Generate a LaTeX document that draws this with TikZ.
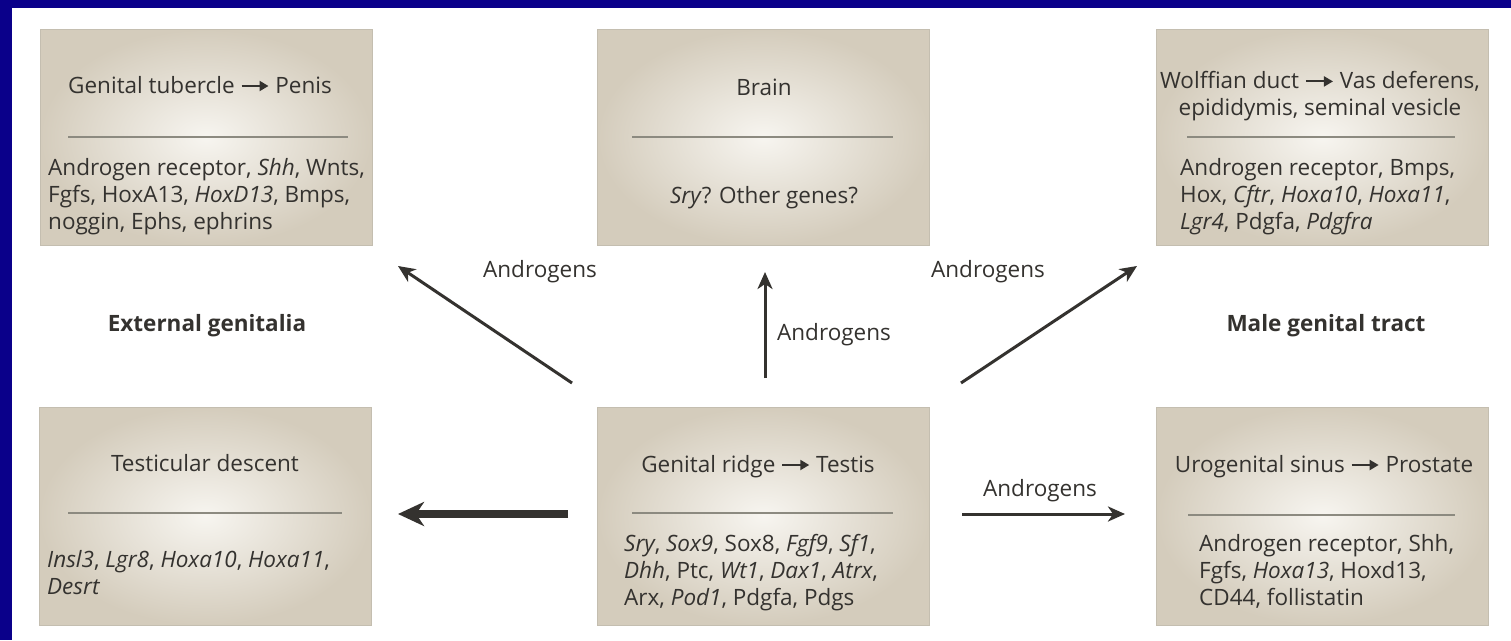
\documentclass[tikz,border=0pt]{standalone}
\usepackage{fontspec}
\setmainfont{Open Sans}
\usetikzlibrary{arrows.meta}
\definecolor{frameblue}{RGB}{10,0,138}
\definecolor{boxedge}{RGB}{212,204,188}
\definecolor{boxcore}{RGB}{247,245,240}
\definecolor{boxline}{RGB}{196,190,176}
\definecolor{ink}{RGB}{52,50,47}
\definecolor{rulegray}{RGB}{140,138,128}
% short arrow used inside the panel headings
\newcommand\devarrow{\tikz[baseline={(0pt,-7pt)}]\draw[ink,line width=2pt,-{Triangle[length=9pt,width=10pt]}] (0pt,0pt)--(27pt,0pt);}
\tikzset{
  panel/.style={draw=boxline, line width=0.8pt, inner color=boxcore, outer color=boxedge,
    minimum width=332pt, minimum height=216pt, inner sep=0pt},
  txt/.style={font=\fontsize{22.5}{27}\selectfont, text=ink, inner sep=0pt},
  region/.style={font=\fontsize{22.5}{27}\selectfont\bfseries, text=ink, inner sep=0pt},
  divider/.style={rulegray, line width=1.6pt},
  flow/.style={ink, line width=3pt, -{Stealth[length=17pt,width=15pt,inset=5pt]}},
  bigflow/.style={ink, line width=8pt, -{Stealth[length=26pt,width=24pt,inset=8pt]}}
}
\begin{document}
\begin{tikzpicture}[x=1pt,y=-1pt]
\useasboundingbox (0,0) rectangle (1511,640);
\fill[white] (0,0) rectangle (1511,640);
\fill[frameblue] (0,0) rectangle (1511,8);
\fill[frameblue] (0,0) rectangle (12,640);

% panels
\node[panel] (b1) at (206,137.5) {};
\node[panel] (b2) at (763.5,137.5) {};
\node[panel] (b3) at (1322.5,137.5) {};
\node[panel, minimum height=218pt] (b4) at (205,516) {};
\node[panel, minimum height=218pt] (b5) at (763.5,516) {};
\node[panel, minimum height=218pt] (b6) at (1322.5,516) {};

% external genitalia panel
\node[txt, anchor=base] (t1) at (200,93) {Genital tubercle \devarrow{} Penis};
\draw[divider] (68,137) -- (348,137);
\node[txt, anchor=north west, align=left] (l1) at (48,158)
  {Androgen receptor, \textit{Shh}, Wnts,\\ Fgfs, HoxA13, \textit{HoxD13}, Bmps,\\ noggin, Ephs, ephrins};

% brain panel
\node[txt, anchor=base] (t2) at (764,95) {Brain};
\draw[divider] (632,137) -- (893,137);
\node[txt, anchor=base] (l2) at (764,203) {\textit{Sry}? Other genes?};

% male genital tract panel
\node[txt, anchor=north, align=center] (t3) at (1320,71)
  {Wolffian duct \devarrow{} Vas deferens,\\ epididymis, seminal vesicle};
\draw[divider] (1187,137) -- (1455,137);
\node[txt, anchor=north west, align=left] (l3) at (1180,158)
  {Androgen receptor, Bmps,\\ Hox, \textit{Cftr}, \textit{Hoxa10}, \textit{Hoxa11},\\ \textit{Lgr4}, Pdgfa, \textit{Pdgfra}};

% testicular descent panel
\node[txt, anchor=base] (t4) at (205,471) {Testicular descent};
\draw[divider] (68,513) -- (342,513);
\node[txt, anchor=north west, align=left] (l4) at (47,550)
  {\textit{Insl3}, \textit{Lgr8}, \textit{Hoxa10}, \textit{Hoxa11},\\ \textit{Desrt}};

% genital ridge panel
\node[txt, anchor=base] (t5) at (758,472) {Genital ridge \devarrow{} Testis};
\draw[divider] (632,513) -- (893,513);
\node[txt, anchor=north west, align=left] (l5) at (624,534)
  {\textit{Sry}, \textit{Sox9}, Sox8, \textit{Fgf9}, \textit{Sf1},\\ \textit{Dhh}, Ptc, \textit{Wt1}, \textit{Dax1}, \textit{Atrx},\\ Arx, \textit{Pod1}, Pdgfa, Pdgs};

% prostate panel
\node[txt, anchor=base] (t6) at (1324,472) {Urogenital sinus \devarrow{} Prostate};
\draw[divider] (1188,515) -- (1455,515);
\node[txt, anchor=north west, align=left] (l6) at (1199,534)
  {Androgen receptor, Shh,\\ Fgfs, \textit{Hoxa13}, Hoxd13,\\ CD44, follistatin};

% region labels
\node[region] (ext) at (207,326) {External genitalia};
\node[region] (male) at (1326,326) {Male genital tract};

% androgen labels
\node[txt] (a1) at (540,272) {Androgens};
\node[txt] (a2) at (834,335) {Androgens};
\node[txt] (a3) at (988,272) {Androgens};
\node[txt] (a4) at (1040,491) {Androgens};

% arrow ends
\coordinate (s1) at (572,383); \coordinate (e1) at (398,266);
\coordinate (s2) at (765,378); \coordinate (e2) at (765,272);
\coordinate (s3) at (961,383); \coordinate (e3) at (1137,266);
\coordinate (s4) at (568,514); \coordinate (e4) at (398,514);
\coordinate (s5) at (962,514); \coordinate (e5) at (1125,514);

\draw[flow] (s1) -- (e1);
\draw[flow] (s2) -- (e2);
\draw[flow] (s3) -- (e3);
\draw[bigflow] (s4) -- (e4);
\draw[flow] (s5) -- (e5);
\end{tikzpicture}
\end{document}
